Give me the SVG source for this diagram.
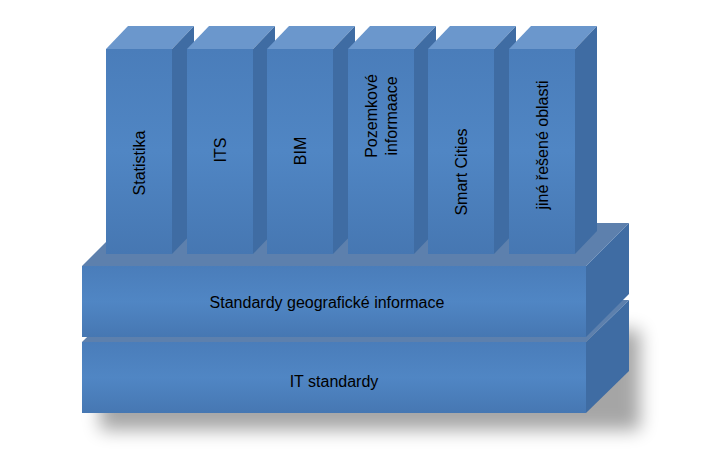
<svg xmlns="http://www.w3.org/2000/svg" width="726" height="455" viewBox="0 0 726 455">
<defs>
<filter id="sh" x="-20%" y="-20%" width="150%" height="160%"><feGaussianBlur stdDeviation="9"/></filter>
<linearGradient id="fr" x1="0" y1="0" x2="0" y2="1"><stop offset="0" stop-color="#4a7dba"/><stop offset="0.5" stop-color="#5086c4"/><stop offset="1" stop-color="#4677b2"/></linearGradient>
<style>
.f{fill:url(#fr)}.t{fill:#6b97cc}.s{fill:#3f6ca3}.st{fill:#5d80ad}
text{font-family:"Liberation Sans",Arial,sans-serif;font-size:16px;fill:#000;text-anchor:middle}
</style>
</defs>
<rect x="100" y="330" width="540" height="100" fill="#000" opacity="0.35" filter="url(#sh)"/>
<g id="it">
<polygon class="st" points="82,342 125,300 629,300 586,342"/>
<polygon class="s" points="586,342 629,300 629,371 586,413"/>
<rect class="f" x="82" y="342" width="504" height="71"/>
<text x="334" y="387">IT standardy</text>
</g>
<g id="geo">
<polygon class="st" points="82,266 125,223 629,223 586,266"/>
<polygon class="s" points="586,266 629,223 629,294 586,337"/>
<rect class="f" x="82" y="266" width="504" height="71"/>
<text x="327" y="308">Standardy geografické informace</text>
</g>
<g id="c1"><polygon class="t" points="106,49 128,26 194,26 172,49"/><polygon class="s" points="172,49 194,26 194,231 172,254"/><rect class="f" x="106" y="49" width="66" height="205"/><text transform="translate(145,163) rotate(-90)">Statistika</text></g>
<g id="c2"><polygon class="t" points="187,49 209,26 275,26 253,49"/><polygon class="s" points="253,49 275,26 275,231 253,254"/><rect class="f" x="187" y="49" width="66" height="205"/><text transform="translate(226,150) rotate(-90)">ITS</text></g>
<g id="c3"><polygon class="t" points="267,49 289,26 355,26 333,49"/><polygon class="s" points="333,49 355,26 355,231 333,254"/><rect class="f" x="267" y="49" width="66" height="205"/><text transform="translate(306,151) rotate(-90)">BIM</text></g>
<g id="c4"><polygon class="t" points="348,49 370,26 436,26 414,49"/><polygon class="s" points="414,49 436,26 436,231 414,254"/><rect class="f" x="348" y="49" width="66" height="205"/><text transform="translate(377,116) rotate(-90)">Pozemkové</text><text transform="translate(397,116) rotate(-90)">informaace</text></g>
<g id="c5"><polygon class="t" points="428,49 450,26 516,26 494,49"/><polygon class="s" points="494,49 516,26 516,231 494,254"/><rect class="f" x="428" y="49" width="66" height="205"/><text transform="translate(467,172) rotate(-90)">Smart Cities</text></g>
<g id="c6"><polygon class="t" points="509,49 531,26 597,26 575,49"/><polygon class="s" points="575,49 597,26 597,231 575,254"/><rect class="f" x="509" y="49" width="66" height="205"/><text transform="translate(548,145) rotate(-90)">jiné řešené oblasti</text></g>
<g id="connectors"/>
</svg>
